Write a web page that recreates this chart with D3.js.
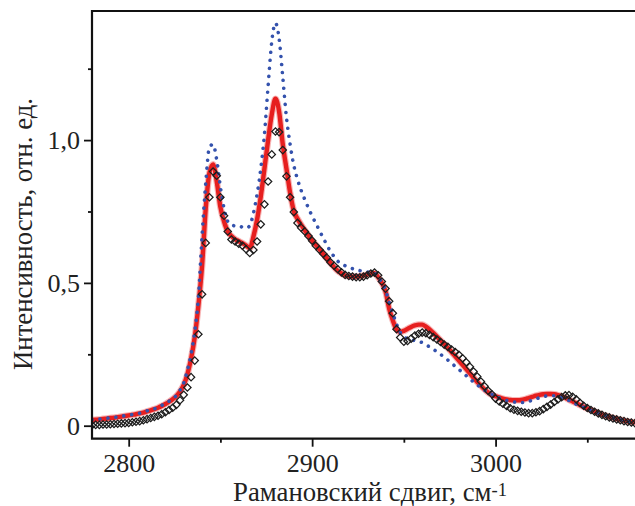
<!DOCTYPE html>
<html><head><meta charset="utf-8">
<script src="https://cdn.jsdelivr.net/npm/d3@7/dist/d3.min.js"></script>
<style>
html,body{margin:0;padding:0;background:#fff;}
svg{display:block;}
text{font-family:"Liberation Serif","DejaVu Serif",serif;fill:#222;}
</style></head>
<body>
<svg id="chart" width="635" height="506"></svg>
<script>
// Raman shift grid (cm^-1), step 2
const wavenumbers = d3.range(2780, 3077, 2);

// Experimental spectrum (open diamonds)
const experiment = [
0.002,0.003,0.003,0.004,0.004,0.005,0.006,0.007,0.008,0.009,
0.010,0.012,0.014,0.016,0.019,0.023,0.027,0.031,0.035,0.040,
0.047,0.055,0.063,0.073,0.089,0.108,0.134,0.170,0.228,0.320,
0.460,0.640,0.800,0.890,0.875,0.800,0.735,0.680,0.652,0.645,
0.637,0.630,0.618,0.605,0.615,0.645,0.705,0.775,0.855,0.950,
1.030,1.028,0.965,0.873,0.800,0.748,0.710,0.693,0.680,0.664,
0.648,0.630,0.616,0.602,0.588,0.572,0.560,0.548,0.537,0.528,
0.524,0.522,0.520,0.520,0.522,0.527,0.533,0.536,0.527,0.505,
0.480,0.436,0.394,0.338,0.309,0.294,0.297,0.305,0.316,0.322,
0.326,0.324,0.318,0.310,0.302,0.293,0.284,0.276,0.267,0.258,
0.248,0.236,0.222,0.206,0.190,0.172,0.155,0.138,0.122,0.110,
0.095,0.085,0.077,0.069,0.061,0.056,0.052,0.049,0.046,0.044,
0.044,0.047,0.051,0.058,0.066,0.074,0.083,0.092,0.100,0.106,
0.107,0.101,0.092,0.080,0.070,0.062,0.055,0.049,0.043,0.038,
0.033,0.029,0.025,0.022,0.019,0.016,0.013,0.011,0.009];

// Blue dotted curve
const modelBlue = [
0.021,0.022,0.023,0.025,0.026,0.028,0.029,0.031,0.033,0.035,
0.037,0.039,0.041,0.044,0.048,0.052,0.055,0.059,0.064,0.071,
0.078,0.086,0.095,0.106,0.124,0.150,0.195,0.250,0.330,0.450,
0.665,0.850,0.975,0.985,0.930,0.835,0.760,0.715,0.703,0.700,
0.700,0.695,0.692,0.700,0.745,0.810,0.900,1.020,1.190,1.345,
1.410,1.355,1.220,1.080,0.985,0.912,0.863,0.824,0.792,0.762,
0.734,0.709,0.683,0.658,0.633,0.610,0.592,0.576,0.566,0.560,
0.556,0.550,0.546,0.543,0.540,0.538,0.537,0.534,0.522,0.500,
0.475,0.432,0.394,0.356,0.327,0.311,0.304,0.301,0.298,0.295,
0.291,0.284,0.276,0.268,0.259,0.250,0.240,0.230,0.219,0.208,
0.197,0.186,0.175,0.164,0.153,0.143,0.133,0.124,0.116,0.110,
0.105,0.097,0.092,0.088,0.085,0.083,0.082,0.081,0.082,0.085,
0.089,0.094,0.098,0.102,0.104,0.105,0.105,0.103,0.099,0.095,
0.088,0.081,0.075,0.069,0.064,0.058,0.053,0.048,0.043,0.039,
0.035,0.031,0.027,0.024,0.021,0.018,0.015,0.013,0.012];

// Red solid curve
const modelRed = [
0.020,0.021,0.022,0.024,0.025,0.027,0.028,0.030,0.032,0.034,
0.036,0.038,0.040,0.043,0.046,0.050,0.054,0.058,0.063,0.069,
0.076,0.084,0.093,0.104,0.120,0.143,0.180,0.235,0.310,0.420,
0.560,0.760,0.885,0.915,0.855,0.765,0.715,0.680,0.664,0.653,
0.646,0.639,0.631,0.622,0.662,0.722,0.802,0.900,1.000,1.090,
1.145,1.100,0.985,0.900,0.815,0.752,0.725,0.704,0.684,0.666,
0.648,0.633,0.618,0.602,0.586,0.570,0.555,0.542,0.533,0.526,
0.523,0.522,0.522,0.523,0.526,0.529,0.533,0.534,0.520,0.500,
0.470,0.410,0.368,0.337,0.328,0.332,0.339,0.346,0.351,0.354,
0.354,0.347,0.337,0.325,0.312,0.299,0.286,0.272,0.258,0.243,
0.228,0.213,0.198,0.183,0.168,0.153,0.140,0.127,0.116,0.108,
0.103,0.099,0.095,0.092,0.090,0.089,0.089,0.090,0.093,0.097,
0.101,0.105,0.108,0.110,0.111,0.111,0.110,0.107,0.103,0.098,
0.091,0.085,0.079,0.072,0.066,0.060,0.055,0.050,0.044,0.039,
0.035,0.031,0.027,0.024,0.021,0.018,0.015,0.013,0.012];

const xMajorTicks = [2800, 2900, 3000];
const xMinorTicks = [2850, 2950, 3050];
const yMajorTicks = [0, 0.5, 1.0];
const yMajorLabels = ["0", "0,5", "1,0"];
const yMinorTicks = [0.25, 0.75, 1.25];
const xTitle = "Рамановский сдвиг, см";
const xTitleSup = "-1";
const yTitle = "Интенсивность, отн. ед.";

const svg = d3.select("#chart");
const L = 92, R = 635, T = 11, B = 438.7;
const x = d3.scaleLinear().domain([2780, 3076]).range([L, R]);
const y = d3.scaleLinear().domain([-0.0455, 1.452]).range([B, T]);

svg.append("clipPath").attr("id","clip").append("rect")
  .attr("x", L).attr("y", T).attr("width", R - L).attr("height", B - T);

const plot = svg.append("g").attr("clip-path","url(#clip)");
const line = (vals) => d3.line().curve(d3.curveMonotoneX)
  .x((d,i) => x(wavenumbers[i])).y(d => y(d))(vals);

// red line with soft edge
plot.append("path").attr("d", line(modelRed)).attr("fill","none")
  .attr("stroke","#f27a7a").attr("stroke-width",6.6).attr("stroke-opacity",0.55)
  .attr("stroke-linejoin","round");
plot.append("path").attr("d", line(modelRed)).attr("fill","none")
  .attr("stroke","#e61f1f").attr("stroke-width",4.4).attr("stroke-linejoin","round");

// blue dotted line
plot.append("path").attr("d", line(modelBlue)).attr("fill","none")
  .attr("stroke","#3452ad").attr("stroke-width",3.6)
  .attr("stroke-linecap","round").attr("stroke-dasharray","0.01 8");

// diamonds
const sym = d3.symbol().type(d3.symbolSquare).size(27);
plot.selectAll("path.dia").data(experiment).join("path").attr("class","dia")
  .attr("d", sym)
  .attr("transform",(d,i) => `translate(${x(wavenumbers[i])},${y(d)}) rotate(45)`)
  .attr("fill","none").attr("stroke","#1e1e1e").attr("stroke-width",1.25);

// axes
const axStyle = g => {
  g.selectAll(".domain").remove();
  g.selectAll(".tick line").attr("stroke","#111").attr("stroke-width",1.8);
  g.selectAll("text").style("font-size","26px").attr("fill","#222");
};
const gx = svg.append("g").attr("transform",`translate(0,${B})`)
  .call(d3.axisBottom(x).tickValues(xMajorTicks).tickSize(8).tickFormat(d3.format("d")))
  .call(axStyle);
gx.selectAll("text").attr("y", 33).attr("dy", 0);
svg.append("g").attr("transform",`translate(0,${B})`)
  .call(d3.axisBottom(x).tickValues(xMinorTicks).tickSize(4).tickFormat(""))
  .call(axStyle);

const gy = svg.append("g").attr("transform",`translate(${L},0)`)
  .call(d3.axisLeft(y).tickValues(yMajorTicks).tickSize(8)
    .tickFormat((d,i) => yMajorLabels[i]))
  .call(axStyle);
gy.selectAll("text").attr("x", -12).attr("dy", "0.33em");
svg.append("g").attr("transform",`translate(${L},0)`)
  .call(d3.axisLeft(y).tickValues(yMinorTicks).tickSize(4).tickFormat(""))
  .call(axStyle);

// frame lines (left, top, bottom)
svg.append("path")
  .attr("d", `M${R},${T}H${L}V${B}H${R}`)
  .attr("fill","none").attr("stroke","#111").attr("stroke-width",2.2);

// titles
const xt = svg.append("text").attr("x", 370).attr("y", 500.5)
  .attr("text-anchor","middle").style("font-size","23px");
xt.append("tspan").text(xTitle);
xt.append("tspan").text(xTitleSup).style("font-size","16px").attr("dy", -5);
// fit to reference width
let w = xt.node().getBBox().width;
const fx = 274 / w;
xt.style("font-size", (23*fx)+"px");
xt.select("tspan:nth-child(2)").style("font-size", (16*fx)+"px");

const yt = svg.append("text")
  .attr("transform","translate(31.5,234) rotate(-90)")
  .attr("text-anchor","middle").style("font-size","24px").text(yTitle);
let wy = yt.node().getBBox().width;
yt.style("font-size", (24*272/wy)+"px");
</script>
</body></html>
